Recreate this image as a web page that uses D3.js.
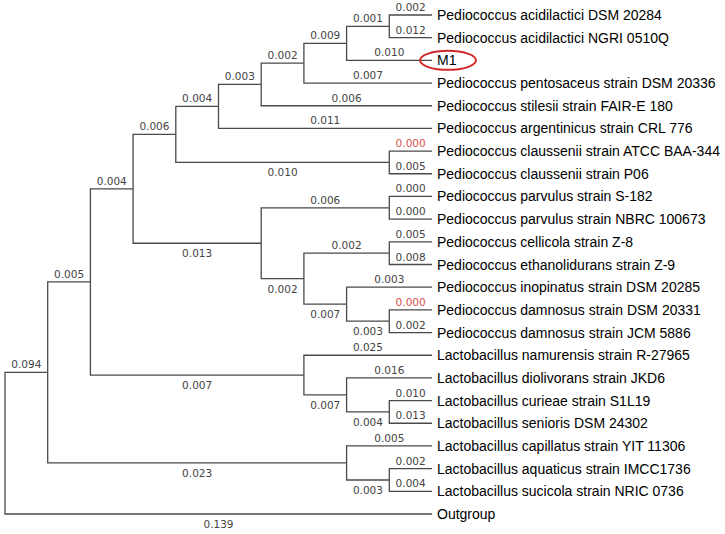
<!DOCTYPE html>
<html>
<head>
<meta charset="utf-8">
<script src="https://cdn.jsdelivr.net/npm/d3@7"></script>
<style>
  html, body { margin: 0; padding: 0; background: #fff; }
  svg { display: block; }
</style>
</head>
<body>
<svg id="chart" width="725" height="534"></svg>
<script>
// Tree edges in top-to-bottom order: [node, parent, branch length]
const edges = [
  ["root", null, null],
  ["n1", "root", 0.094],
  ["Outgroup", "root", 0.139],
  ["n2", "n1", 0.005],
  ["n3", "n1", 0.023],
  ["n4", "n2", 0.004],
  ["n5", "n2", 0.007],
  ["n6", "n4", 0.006],
  ["n7", "n4", 0.013],
  ["n8", "n6", 0.004],
  ["n9", "n6", 0.010],
  ["n10", "n8", 0.003],
  ["Pediococcus argentinicus strain CRL 776", "n8", 0.011],
  ["n11", "n10", 0.002],
  ["Pediococcus stilesii strain FAIR-E 180", "n10", 0.006],
  ["n12", "n11", 0.009],
  ["Pediococcus pentosaceus strain DSM 20336", "n11", 0.007],
  ["n13", "n12", 0.001],
  ["M1", "n12", 0.010],
  ["Pediococcus acidilactici DSM 20284", "n13", 0.002],
  ["Pediococcus acidilactici NGRI 0510Q", "n13", 0.012],
  ["Pediococcus claussenii strain ATCC BAA-344", "n9", 0.000],
  ["Pediococcus claussenii strain P06", "n9", 0.005],
  ["n14", "n7", 0.006],
  ["n15", "n7", 0.002],
  ["Pediococcus parvulus strain S-182", "n14", 0.000],
  ["Pediococcus parvulus strain NBRC 100673", "n14", 0.000],
  ["n16", "n15", 0.002],
  ["n17", "n15", 0.007],
  ["Pediococcus cellicola strain Z-8", "n16", 0.005],
  ["Pediococcus ethanolidurans strain Z-9", "n16", 0.008],
  ["Pediococcus inopinatus strain DSM 20285", "n17", 0.003],
  ["n18", "n17", 0.003],
  ["Pediococcus damnosus strain DSM 20331", "n18", 0.000],
  ["Pediococcus damnosus strain JCM 5886", "n18", 0.002],
  ["Lactobacillus namurensis strain R-27965", "n5", 0.025],
  ["n19", "n5", 0.007],
  ["Lactobacillus diolivorans strain JKD6", "n19", 0.016],
  ["n20", "n19", 0.004],
  ["Lactobacillus curieae strain S1L19", "n20", 0.010],
  ["Lactobacillus senioris DSM 24302", "n20", 0.013],
  ["Lactobacillus capillatus strain YIT 11306", "n3", 0.005],
  ["n21", "n3", 0.003],
  ["Lactobacillus aquaticus strain IMCC1736", "n21", 0.002],
  ["Lactobacillus sucicola strain NRIC 0736", "n21", 0.004]
];
const redLabels = ["Pediococcus claussenii strain ATCC BAA-344", "Pediococcus damnosus strain DSM 20331"];
const highlighted = ["M1"];

const svg = d3.select("#chart");

const root = d3.stratify()
  .id(d => d[0])
  .parentId(d => d[1])(edges);

d3.cluster().size([1, 1]).separation(() => 1)(root);

const leaves = root.leaves();
const yScale = d3.scaleLinear()
  .domain([leaves[0].x, leaves[leaves.length - 1].x])
  .range([15, 514]);
const xScale = d3.scaleLinear().domain([0, 1]).range([5, 432]);

const lineColor = "#4a4a4a";
const g = svg.append("g");

// branches (elbow)
g.selectAll("path.link")
  .data(root.descendants().filter(d => d.parent))
  .join("path")
  .attr("class", "link")
  .attr("fill", "none")
  .attr("stroke", lineColor)
  .attr("stroke-width", 1.3)
  .attr("d", d => {
    const px = xScale(d.parent.y), py = yScale(d.parent.x);
    const nx = xScale(d.y), ny = yScale(d.x);
    return `M${px},${py}V${ny}H${nx}`;
  });

// branch length labels
g.selectAll("text.bl")
  .data(root.descendants().filter(d => d.parent))
  .join("text")
  .attr("class", "bl")
  .attr("font-family", "'DejaVu Sans', Verdana, sans-serif")
  .attr("font-size", 10.5)
  .attr("text-anchor", "middle")
  .attr("fill", d => redLabels.includes(d.id) ? "#d9504f" : "#444")
  .attr("x", d => (xScale(d.parent.y) + xScale(d.y)) / 2)
  .attr("y", d => {
    const ny = yScale(d.x);
    const isLeaf = !d.children;
    const isSecond = d.parent.children.indexOf(d) > 0;
    let below = (!isLeaf && isSecond) || (isLeaf && d.parent === root);
    return below ? ny + 14 : ny - 4;
  })
  .text(d => d3.format(".3f")(d.data[2]));

// leaf names
g.selectAll("text.leaf")
  .data(leaves)
  .join("text")
  .attr("class", "leaf")
  .attr("font-family", "'Liberation Sans', Arial, sans-serif")
  .attr("font-size", 14)
  .attr("fill", "#000")
  .attr("x", d => xScale(d.y) + 5)
  .attr("y", d => yScale(d.x))
  .attr("dy", "0.36em")
  .text(d => d.id);

// highlight ellipse
g.selectAll("ellipse.hl")
  .data(leaves.filter(d => highlighted.includes(d.id)))
  .join("ellipse")
  .attr("class", "hl")
  .attr("cx", d => xScale(d.y) + 16)
  .attr("cy", d => yScale(d.x))
  .attr("rx", 28)
  .attr("ry", 9.5)
  .attr("fill", "none")
  .attr("stroke", "#d02828")
  .attr("stroke-width", 2);
</script>
</body>
</html>
